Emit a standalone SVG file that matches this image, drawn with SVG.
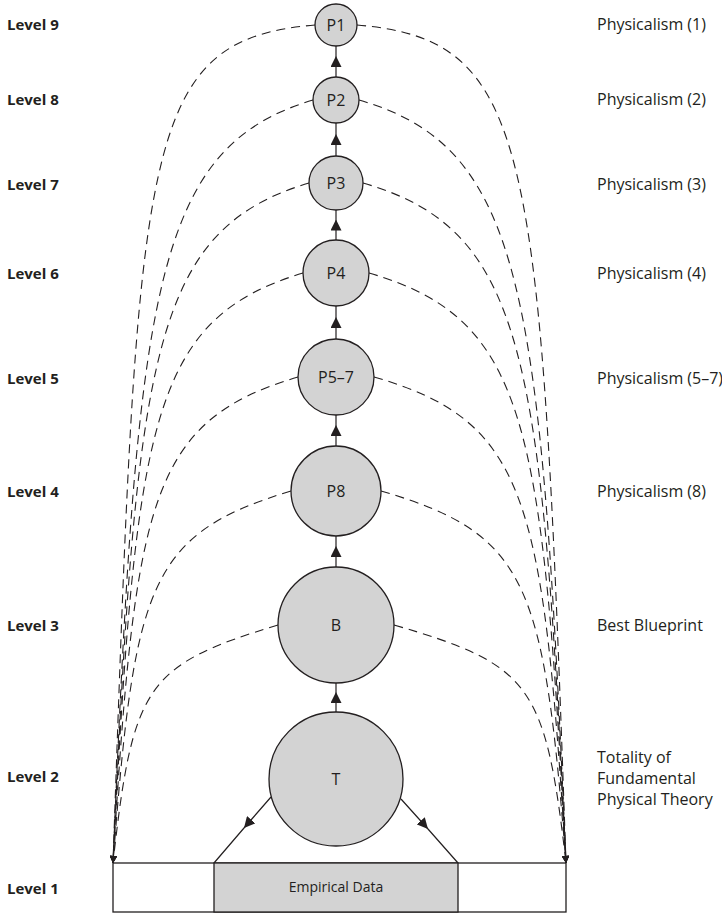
<svg xmlns="http://www.w3.org/2000/svg" width="722" height="916" viewBox="0 0 722 916">
<style>
text{font-family:"Open Sans","Noto Sans","Liberation Sans",sans-serif;font-size:16px;fill:#231f20}
.lvl{font-weight:bold;font-size:15px}
.mid{text-anchor:middle}
.small{font-size:14px}
.node{fill:#d3d3d3;stroke:#231f20;stroke-width:1.3}
.box{fill:#fff;stroke:#231f20;stroke-width:1.3}
.gbox{fill:#d3d3d3;stroke:#231f20;stroke-width:1.3}
.dash{fill:none;stroke:#231f20;stroke-width:1.1;stroke-dasharray:9 6;marker-end:url(#dh)}
.solid{fill:none;stroke:#231f20;stroke-width:1.2;marker-mid:url(#ah)}
</style>
<defs>
<marker id="ah" viewBox="0 0 10 10" refX="10" refY="5" markerUnits="userSpaceOnUse" markerWidth="11" markerHeight="11" orient="auto"><path d="M0,0 L10,5 L0,10 z" fill="#231f20"/></marker>
<marker id="dh" viewBox="0 0 10 10" refX="10" refY="5" markerUnits="userSpaceOnUse" markerWidth="10" markerHeight="7" orient="auto"><path d="M0,0 L10,5 L0,10 z" fill="#231f20"/></marker>
</defs>
<g id="connectors">
<path class="dash" d="M315,25 C140,40 138,140 113,863"/>
<path class="dash" d="M313,100 C153,148 137,290.8 113,863"/>
<path class="dash" d="M309,183 C152.2,230 136.5,353 113,863"/>
<path class="dash" d="M303,273 C151,319 135.8,420.5 113,863"/>
<path class="dash" d="M298,377 C150,421 135.2,498.5 113,863"/>
<path class="dash" d="M291,491 C148.6,534 134.4,584 113,863"/>
<path class="dash" d="M278,625 C146,665 132.8,684.5 113,863"/>
<path class="dash" d="M357,25 C532,40 541,140 566,863"/>
<path class="dash" d="M359,100 C524.6,148 541.2,290.8 566,863"/>
<path class="dash" d="M363,183 C525.4,230 541.6,353 566,863"/>
<path class="dash" d="M369,273 C526.6,319 542.4,420.5 566,863"/>
<path class="dash" d="M374,377 C527.6,421 543,498.5 566,863"/>
<path class="dash" d="M381,491 C529,534 543.8,584 566,863"/>
<path class="dash" d="M394,625 C531.6,665 545.4,684.5 566,863"/>
<path class="solid" d="M336,77 L336,56 L336,46"/>
<path class="solid" d="M336,156 L336,134 L336,123"/>
<path class="solid" d="M336,240 L336,219.5 L336,210"/>
<path class="solid" d="M336,339 L336,317 L336,306"/>
<path class="solid" d="M336,446 L336,425 L336,415"/>
<path class="solid" d="M336,567 L336,546 L336,536"/>
<path class="solid" d="M336,712 L336,692 L336,683"/>
<path class="solid" d="M271,797 L244,828 L214,863"/>
<path class="solid" d="M401,799 L428,829 L458,863"/>
</g>
<g id="P1"><circle class="node" cx="336" cy="25" r="21"/><text class="mid" x="336" y="31">P1</text></g>
<g id="P2"><circle class="node" cx="336" cy="100" r="23"/><text class="mid" x="336" y="106">P2</text></g>
<g id="P3"><circle class="node" cx="336" cy="183" r="27"/><text class="mid" x="336" y="189">P3</text></g>
<g id="P4"><circle class="node" cx="336" cy="273" r="33"/><text class="mid" x="336" y="279">P4</text></g>
<g id="P5-7"><circle class="node" cx="336" cy="377" r="38"/><text class="mid" x="336" y="383">P5–7</text></g>
<g id="P8"><circle class="node" cx="336" cy="491" r="45"/><text class="mid" x="336" y="497">P8</text></g>
<g id="B"><circle class="node" cx="336" cy="625" r="58"/><text class="mid" x="336" y="631">B</text></g>
<g id="T"><circle class="node" cx="336" cy="779" r="67"/><text class="mid" x="336" y="785">T</text></g>
<g id="data">
<rect class="box" x="113" y="863" width="453" height="49"/>
<rect class="gbox" x="214" y="863" width="244" height="49"/>
<text class="mid small" x="336" y="892">Empirical Data</text>
</g>
<g id="levels">
<text class="lvl" x="7" y="30">Level 9</text>
<text class="lvl" x="7" y="105">Level 8</text>
<text class="lvl" x="7" y="190">Level 7</text>
<text class="lvl" x="7" y="279">Level 6</text>
<text class="lvl" x="7" y="384">Level 5</text>
<text class="lvl" x="7" y="497">Level 4</text>
<text class="lvl" x="7" y="631">Level 3</text>
<text class="lvl" x="7" y="782">Level 2</text>
<text class="lvl" x="7" y="894">Level 1</text>
</g>
<g id="names">
<text x="597" y="30">Physicalism (1)</text>
<text x="597" y="105">Physicalism (2)</text>
<text x="597" y="190">Physicalism (3)</text>
<text x="597" y="279">Physicalism (4)</text>
<text x="597" y="384">Physicalism (5–7)</text>
<text x="597" y="497">Physicalism (8)</text>
<text x="597" y="631">Best Blueprint</text>
<text x="597" y="763">Totality of</text>
<text x="597" y="784">Fundamental</text>
<text x="597" y="805">Physical Theory</text>
</g>
</svg>
